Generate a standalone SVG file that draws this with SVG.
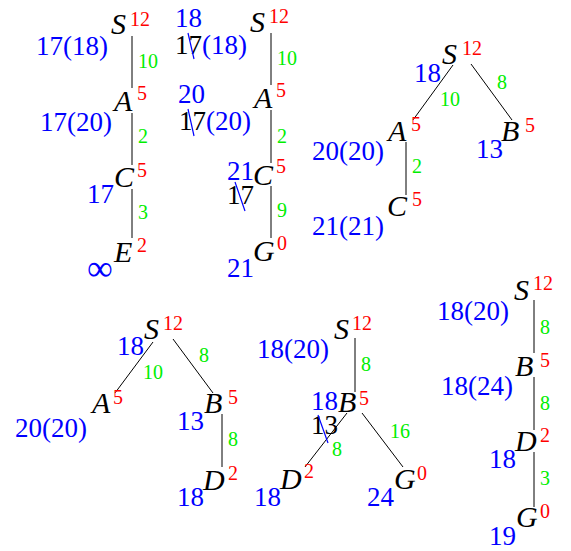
<svg xmlns="http://www.w3.org/2000/svg" width="571" height="551" viewBox="0 0 571 551">
<style>
.n{font-family:"Liberation Serif",serif;font-style:italic;font-size:30px;fill:#000}
.h{font-family:"Liberation Serif",serif;font-size:20px;fill:#ff0000}
.g{font-family:"Liberation Serif",serif;font-size:20px;fill:#00ee00}
.b{font-family:"Liberation Serif",serif;font-size:27px;fill:#0000ff}
.k{fill:#000}
.e{stroke:#000;stroke-width:1;fill:none}
.s{stroke:#0000ff;stroke-width:1.2;fill:none}
</style>
<rect width="571" height="551" fill="#fff"/>
<g id="connectors">
<line class="e" x1="132" y1="36" x2="132" y2="88"/>
<line class="e" x1="132" y1="113" x2="132" y2="165"/>
<line class="e" x1="132" y1="189" x2="132" y2="238"/>
<line class="e" x1="271" y1="33" x2="271" y2="85"/>
<line class="e" x1="271" y1="110" x2="271" y2="163"/>
<line class="e" x1="271" y1="186" x2="271" y2="238"/>
<line class="e" x1="453" y1="65" x2="413" y2="120"/>
<line class="e" x1="471" y1="64" x2="512" y2="120"/>
<line class="e" x1="406" y1="142" x2="406" y2="195"/>
<line class="e" x1="153" y1="342" x2="115" y2="393"/>
<line class="e" x1="173" y1="339" x2="213" y2="393"/>
<line class="e" x1="222" y1="414" x2="222" y2="467"/>
<line class="e" x1="355" y1="338" x2="355" y2="392"/>
<line class="e" x1="347" y1="413" x2="305" y2="467"/>
<line class="e" x1="362" y1="413" x2="403" y2="467"/>
<line class="e" x1="534" y1="300" x2="534" y2="353"/>
<line class="e" x1="534" y1="377" x2="534" y2="430"/>
<line class="e" x1="534" y1="452" x2="534" y2="507"/>
<text class="g" x="138" y="68">10</text>
<text class="g" x="138" y="143">2</text>
<text class="g" x="138" y="219">3</text>
<text class="g" x="277" y="65">10</text>
<text class="g" x="277" y="143">2</text>
<text class="g" x="277" y="217">9</text>
<text class="g" x="440" y="106">10</text>
<text class="g" x="497" y="89">8</text>
<text class="g" x="412" y="173">2</text>
<text class="g" x="143" y="379">10</text>
<text class="g" x="199" y="362">8</text>
<text class="g" x="228" y="446">8</text>
<text class="g" x="361" y="371">8</text>
<text class="g" x="332" y="456">8</text>
<text class="g" x="390" y="438">16</text>
<text class="g" x="540" y="334">8</text>
<text class="g" x="540" y="410">8</text>
<text class="g" x="540" y="485">3</text>
</g>
<g id="t1-S"><text class="n" x="111" y="34">S</text><text class="h" x="130" y="26">12</text><text class="b" x="36" y="55">17(18)</text></g>
<g id="t1-A"><text class="n" x="114" y="111">A</text><text class="h" x="137" y="100">5</text><text class="b" x="40" y="131">17(20)</text></g>
<g id="t1-C"><text class="n" x="114" y="187">C</text><text class="h" x="137" y="177">5</text><text class="b" x="87" y="203">17</text></g>
<g id="t1-E"><text class="n" x="114" y="262">E</text><text class="h" x="137" y="252">2</text><text class="b" x="87" y="280" style="font-size:36px">∞</text></g>
<g id="t2-S"><text class="n" x="250" y="32">S</text><text class="h" x="269" y="23">12</text><text class="b" x="175" y="27">18</text><text class="b" x="175" y="54"><tspan class="k">17</tspan>(18)</text><line class="s" x1="188" y1="33" x2="194" y2="59"/></g>
<g id="t2-A"><text class="n" x="254" y="108">A</text><text class="h" x="276" y="97">5</text><text class="b" x="178" y="103">20</text><text class="b" x="179" y="130"><tspan class="k">17</tspan>(20)</text><line class="s" x1="188" y1="109" x2="194" y2="136"/></g>
<g id="t2-C"><text class="n" x="253" y="185">C</text><text class="h" x="276" y="173">5</text><text class="b" x="227" y="180">21</text><text class="b k" x="227" y="204">17</text><line class="s" x1="235" y1="182" x2="245" y2="211"/></g>
<g id="t2-G"><text class="n" x="253" y="261">G</text><text class="h" x="277" y="250">0</text><text class="b" x="227" y="277">21</text></g>
<g id="t3-S"><text class="n" x="442" y="64">S</text><text class="h" x="462" y="55">12</text><text class="b" x="414" y="82">18</text></g>
<g id="t3-A"><text class="n" x="388" y="141">A</text><text class="h" x="411" y="131">5</text><text class="b" x="312" y="160">20(20)</text></g>
<g id="t3-C"><text class="n" x="387" y="216">C</text><text class="h" x="412" y="206">5</text><text class="b" x="312" y="235">21(21)</text></g>
<g id="t3-B"><text class="n" x="501" y="141">B</text><text class="h" x="525" y="132">5</text><text class="b" x="476" y="158">13</text></g>
<g id="t4-S"><text class="n" x="144" y="339">S</text><text class="h" x="163" y="330">12</text><text class="b" x="117" y="355">18</text></g>
<g id="t4-A"><text class="n" x="92" y="413">A</text><text class="h" x="113" y="404">5</text><text class="b" x="15" y="437">20(20)</text></g>
<g id="t4-B"><text class="n" x="204" y="413">B</text><text class="h" x="228" y="404">5</text><text class="b" x="177" y="430">13</text></g>
<g id="t4-D"><text class="n" x="203" y="490">D</text><text class="h" x="228" y="480">2</text><text class="b" x="177" y="506">18</text></g>
<g id="t5-S"><text class="n" x="334" y="339">S</text><text class="h" x="352" y="330">12</text><text class="b" x="257" y="358">18(20)</text></g>
<g id="t5-B"><text class="n" x="338" y="412">B</text><text class="h" x="359" y="405">5</text><text class="b" x="311" y="410">18</text><text class="b k" x="311" y="434">13</text><line class="s" x1="318" y1="415" x2="328" y2="443"/></g>
<g id="t5-D"><text class="n" x="280" y="489">D</text><text class="h" x="304" y="478">2</text><text class="b" x="254" y="506">18</text></g>
<g id="t5-G"><text class="n" x="394" y="489">G</text><text class="h" x="417" y="480">0</text><text class="b" x="367" y="506">24</text></g>
<g id="t6-S"><text class="n" x="514" y="300">S</text><text class="h" x="533" y="290">12</text><text class="b" x="437" y="320">18(20)</text></g>
<g id="t6-B"><text class="n" x="515" y="376">B</text><text class="h" x="540" y="367">5</text><text class="b" x="441" y="395">18(24)</text></g>
<g id="t6-D"><text class="n" x="515" y="451">D</text><text class="h" x="540" y="442">2</text><text class="b" x="489" y="468">18</text></g>
<g id="t6-G"><text class="n" x="516" y="527">G</text><text class="h" x="540" y="518">0</text><text class="b" x="489" y="545">19</text></g>
</svg>
